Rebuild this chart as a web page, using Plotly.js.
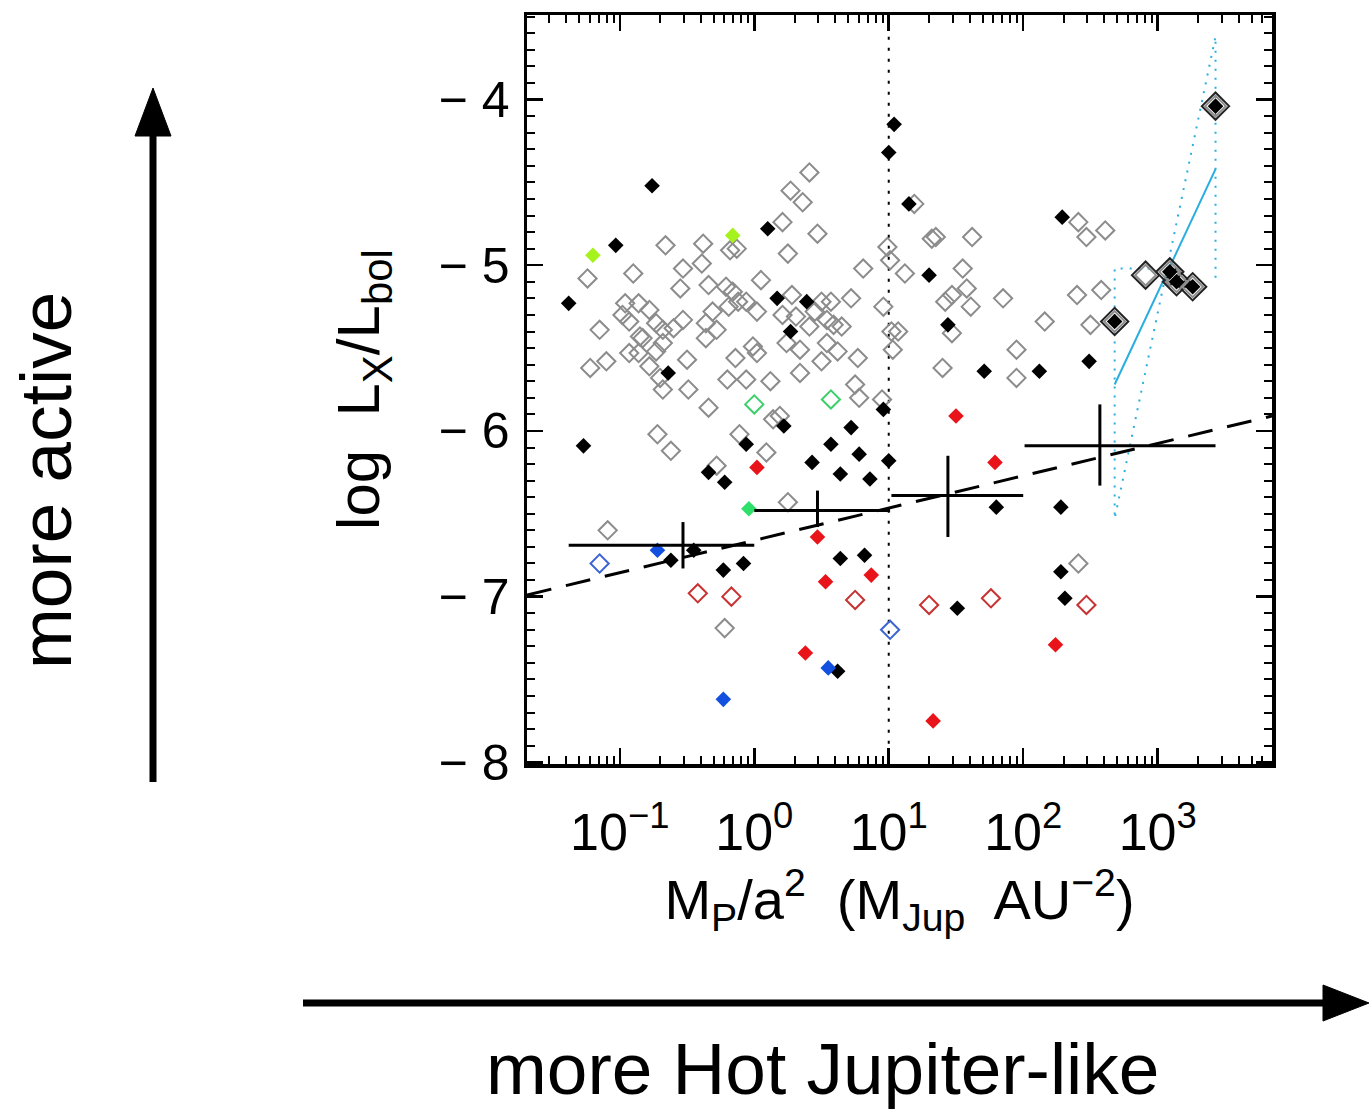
<!DOCTYPE html>
<html>
<head>
<meta charset="utf-8">
<script src="https://cdn.plot.ly/plotly-3.0.1.min.js"></script>
<style>html,body{margin:0;padding:0;background:#fff}#chart{width:1369px;height:1116px}</style>
</head>
<body>
<div id="chart"></div>
<script>
const grayLogX = [-1.24,-1.15,-0.96,-0.86,-0.78,-0.98,-0.93,-0.90,-0.73,-0.66,-0.53,-0.55,-0.53,-0.39,-0.38,-0.34,-0.36,-0.28,-0.85,-0.68,-0.60,-0.83,-0.93,-0.86,-0.73,-0.68,-1.22,-1.10,-0.78,-0.50,-0.70,-0.68,-0.49,-0.34,-0.72,-0.62,-0.28,-0.20,
  0.41,0.27,0.36,0.21,0.47,-0.18,-0.13,0.25,0.81,0.99,1.01,0.05,-0.21,-0.16,-0.12,-0.06,0.28,0.50,0.57,0.72,0.96,-0.31,-0.19,0.02,0.21,0.31,0.45,0.54,0.41,0.59,0.65,
  -0.36,0.24,0.34,0.54,0.62,0.77,0.50,-0.14,-0.01,0.02,-0.06,0.12,0.34,0.75,0.78,1.03,1.02,0.95,0.14,0.19,-0.11,0.09,0.25,-1.09,-0.22,
  1.19,1.32,1.35,1.62,1.12,1.55,1.42,1.47,1.58,1.61,1.85,2.40,1.07,1.47,2.16,1.95,1.40,1.95,2.41,2.47,2.61,2.58,2.50,2.41];
const grayLogY = [-5.08,-5.39,-5.23,-5.23,-5.27,-5.30,-5.34,-5.05,-5.35,-4.88,-5.02,-5.14,-5.33,-4.99,-4.87,-5.12,-5.35,-5.39,-5.43,-5.39,-5.38,-5.44,-5.53,-5.53,-5.52,-5.47,-5.62,-5.58,-5.61,-5.57,-5.68,-5.75,-5.75,-5.86,-6.02,-6.12,-6.21,-5.69,
  -4.44,-4.55,-4.62,-4.74,-4.81,-4.91,-4.90,-4.93,-5.02,-4.89,-4.97,-5.09,-5.13,-5.16,-5.22,-5.22,-5.18,-5.22,-5.22,-5.20,-5.25,-5.28,-5.25,-5.28,-5.30,-5.31,-5.28,-5.33,-5.37,-5.36,-5.37,
  -5.44,-5.47,-5.51,-5.47,-5.52,-5.56,-5.58,-5.56,-5.49,-5.53,-5.69,-5.70,-5.65,-5.72,-5.80,-5.51,-5.40,-5.81,-5.93,-5.91,-6.02,-6.13,-6.43,-6.60,-7.19,
  -4.63,-4.84,-4.83,-4.83,-5.05,-5.02,-5.22,-5.18,-5.14,-5.25,-5.20,-5.18,-5.40,-5.41,-5.34,-5.51,-5.62,-5.68,-4.74,-4.83,-4.79,-5.15,-5.36,-6.80];

const blackLogX = [-0.76,-1.03,0.10,-1.38,1.00,1.04,0.17,0.39,0.27,-0.64,-1.27,-0.34,-0.22,-0.06,0.22,0.72,0.57,0.78,0.43,0.64,0.86,1.00,0.96,-0.62,-0.45,-0.23,-0.08,0.64,0.82,0.62,
  1.15,2.29,1.30,1.44,1.71,2.12,2.49,1.80,2.28,2.28,2.31,1.51];
const blackLogY = [-4.52,-4.88,-4.78,-5.23,-4.32,-4.15,-5.20,-5.22,-5.40,-5.65,-6.09,-6.25,-6.31,-6.08,-5.97,-5.98,-6.08,-6.14,-6.19,-6.26,-6.29,-6.18,-5.87,-6.78,-6.72,-6.84,-6.80,-6.77,-6.75,-7.45,
  -4.63,-4.71,-5.06,-5.36,-5.64,-5.64,-5.58,-6.46,-6.46,-6.85,-7.01,-7.07];

const limeLogX = [-1.20,-0.16];
const limeLogY = [-4.94,-4.82];
const greenOpenLogX = [0.00,0.57];
const greenOpenLogY = [-5.84,-5.81];
const greenFillLogX = [-0.04];
const greenFillLogY = [-6.47];
const redFillLogX = [0.02,0.47,0.53,0.87,0.38,1.50,1.79,2.24,1.33];
const redFillLogY = [-6.22,-6.64,-6.91,-6.87,-7.34,-5.91,-6.19,-7.29,-7.75];
const redOpenLogX = [-0.42,-0.17,0.75,1.30,1.76,2.47];
const redOpenLogY = [-6.98,-7.00,-7.02,-7.05,-7.01,-7.05];
const blueFillLogX = [-0.72,-0.23,0.55];
const blueFillLogY = [-6.72,-7.62,-7.43];
const blueOpenLogX = [-1.15,1.01];
const blueOpenLogY = [-6.80,-7.20];

// highlighted (double-outlined) systems
const bigLogX = [2.68,2.91,3.09,3.14,3.26,3.43];
const bigLogY = [-5.34,-5.06,-5.04,-5.10,-5.13,-4.04];
const bigFilled = [true,false,true,true,true,true];

// binned means with ranges
const crossLogX   = [-0.53,0.47,1.44,2.57];
const crossLogXLo = [-1.38,0.00,1.02,2.01];
const crossLogXHi = [0.00,1.01,2.00,3.43];
const crossY   = [-6.69,-6.48,-6.39,-6.09];
const crossYLo = [-6.83,-6.58,-6.64,-6.33];
const crossYHi = [-6.55,-6.36,-6.15,-5.84];

// dashed overall fit
const fitLogX = [-1.69,3.85];
const fitY = [-6.99,-5.91];
// cyan fit of highlighted systems and its envelope
const cyanLogX = [2.68,3.43];
const cyanY = [-5.72,-4.42];
const envLogX = [2.94,2.68,2.68,3.43,3.43];
const envY = [-5.02,-5.02,-6.53,-3.62,-5.11];

const xTickVals = [0.1,1,10,100,1000];
const xTickText = ['10<sup>−1</sup>','10<sup>0</sup>','10<sup>1</sup>','10<sup>2</sup>','10<sup>3</sup>'];
const yTickVals = [-8,-7,-6,-5,-4];
const yTickText = ['− 8','− 7','− 6','− 5','− 4'];

const p10 = a => a.map(v => Math.pow(10, v));

const traces = [];
function pts(lx, ly, symbol, size, color, lineColor, lineWidth) {
  traces.push({type:'scatter', mode:'markers', x:p10(lx), y:ly,
    marker:{symbol:symbol, size:size, color:color, line:{color:lineColor, width:lineWidth}},
    hoverinfo:'skip'});
}
// vertical dotted line at 10
traces.push({type:'scatter', mode:'lines', x:[10,10], y:[-8.02,-3.48], line:{color:'#000', width:2, dash:'3px,8px'}, hoverinfo:'skip'});
pts(grayLogX, grayLogY, 'diamond-open', 14, '#8c8c8c', '#8c8c8c', 2);
pts(blackLogX, blackLogY, 'diamond', 12, '#000', '#000', 0);
pts(limeLogX, limeLogY, 'diamond', 12, '#a6f21c', '#a6f21c', 0);
pts(greenOpenLogX, greenOpenLogY, 'diamond-open', 14, '#3ccf6a', '#3ccf6a', 2);
pts(greenFillLogX, greenFillLogY, 'diamond', 12, '#2ee06a', '#2ee06a', 0);
pts(redFillLogX, redFillLogY, 'diamond', 12, '#e8141a', '#e8141a', 0);
pts(redOpenLogX, redOpenLogY, 'diamond-open', 14, '#c83232', '#c83232', 2);
pts(blueFillLogX, blueFillLogY, 'diamond', 12, '#1450e0', '#1450e0', 0);
pts(blueOpenLogX, blueOpenLogY, 'diamond-open', 14, '#3c64d2', '#3c64d2', 2);

// dashed fit
traces.push({type:'scatter', mode:'lines', x:p10(fitLogX), y:fitY, line:{color:'#000', width:3, dash:'25px,15px'}, hoverinfo:'skip'});
// cyan envelope and fit
traces.push({type:'scatter', mode:'lines', x:p10(envLogX), y:envY, line:{color:'#29aee0', width:2, dash:'2px,7px'}, hoverinfo:'skip'});
traces.push({type:'scatter', mode:'lines', x:p10(cyanLogX), y:cyanY, line:{color:'#29aee0', width:2}, hoverinfo:'skip'});

// highlighted systems
pts(bigLogX, bigLogY, 'diamond-open', 21, '#222', '#222', 2);
pts(bigLogX, bigLogY, 'diamond-open', 16, '#8c8c8c', '#8c8c8c', 2);
pts(bigLogX.filter((v,i)=>bigFilled[i]), bigLogY.filter((v,i)=>bigFilled[i]), 'diamond', 12, '#000', '#000', 0);

// crosses
const cx = [], cy = [];
for (let i = 0; i < crossLogX.length; i++) {
  cx.push(Math.pow(10, crossLogXLo[i]), Math.pow(10, crossLogXHi[i]), null,
          Math.pow(10, crossLogX[i]), Math.pow(10, crossLogX[i]), null);
  cy.push(crossY[i], crossY[i], null, crossYLo[i], crossYHi[i], null);
}
traces.push({type:'scatter', mode:'lines', x:cx, y:cy, line:{color:'#000', width:3}, connectgaps:false, hoverinfo:'skip'});

// page decoration helpers (pixel -> paper)
const L = 527, R = 1272, T = 15, B = 764;
const px = v => (v - L) / (R - L);
const py = v => (B - v) / (B - T);

const FONT = 'Liberation Sans, Arial, sans-serif';

const layout = {
  width: 1369, height: 1116,
  margin: {l: L, r: 1369 - R, t: T, b: 1116 - B},
  paper_bgcolor: '#fff', plot_bgcolor: '#fff',
  showlegend: false,
  font: {family: FONT, color: '#000'},
  xaxis: {
    type: 'log', range: [-1.69, 3.85],
    tickvals: xTickVals, ticktext: xTickText,
    ticks: 'inside', ticklen: 16, tickwidth: 2.5, tickcolor: '#000',
    minor: {ticks: 'inside', ticklen: 8, tickwidth: 2, tickcolor: '#000', dtick: 'D1', showgrid: false},
    showline: true, linewidth: 3.5, linecolor: '#000', mirror: 'allticks',
    showgrid: false, zeroline: false,
    tickfont: {size: 52, family: FONT},
    ticklabelstandoff: 20,
    title: {text: 'M<sub>P</sub>/a<sup>2</sup>  (M<sub>Jup</sub>  AU<sup>−2</sup>)', font: {size: 56, family: FONT}, standoff: 12}
  },
  yaxis: {
    range: [-8.01, -3.49], tickvals: yTickVals, ticktext: yTickText,
    ticks: 'inside', ticklen: 16, tickwidth: 2.5, tickcolor: '#000',
    minor: {ticks: 'inside', ticklen: 8, tickwidth: 2, tickcolor: '#000', dtick: 0.1, showgrid: false},
    showline: true, linewidth: 3.5, linecolor: '#000', mirror: 'allticks',
    showgrid: false, zeroline: false,
    tickfont: {size: 50, family: FONT},
    ticklabelstandoff: 4,
    title: {text: 'log  L<sub>X</sub>/L<sub>bol</sub>', font: {size: 60, family: FONT}, standoff: 40}
  },
  shapes: [
    {type:'line', xref:'paper', yref:'paper', x0:px(153), x1:px(153), y0:py(782), y1:py(128), line:{color:'#000', width:7}},
    {type:'path', xref:'paper', yref:'paper', path:`M ${px(153)} ${py(88)} L ${px(135)} ${py(136)} L ${px(171)} ${py(136)} Z`, fillcolor:'#000', line:{color:'#000', width:1}},
    {type:'line', xref:'paper', yref:'paper', x0:px(303), x1:px(1330), y0:py(1003), y1:py(1003), line:{color:'#000', width:7}},
    {type:'path', xref:'paper', yref:'paper', path:`M ${px(1369)} ${py(1003)} L ${px(1323)} ${py(985)} L ${px(1323)} ${py(1021)} Z`, fillcolor:'#000', line:{color:'#000', width:1}}
  ],
  annotations: [
    {text:'more active', xref:'paper', yref:'paper', x:px(45), y:py(481), xanchor:'center', yanchor:'middle', textangle:-90, showarrow:false, font:{size:73, family:FONT, color:'#000'}},
    {text:'more Hot Jupiter-like', xref:'paper', yref:'paper', x:px(822), y:py(1068), xanchor:'center', yanchor:'middle', showarrow:false, font:{size:73, family:FONT, color:'#000'}}
  ]
};

Plotly.newPlot('chart', traces, layout, {staticPlot: true, displayModeBar: false});
</script>
</body>
</html>
